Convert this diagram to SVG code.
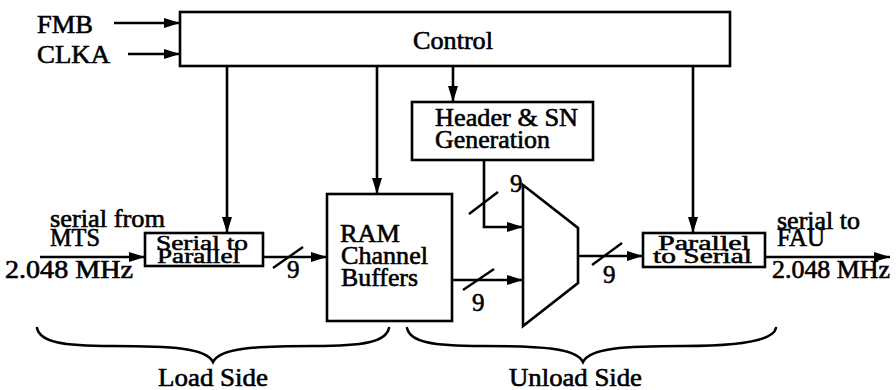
<svg xmlns="http://www.w3.org/2000/svg" width="896" height="390" viewBox="0 0 896 390" font-family="'Liberation Serif', 'Times New Roman', serif">
  <defs>
    <marker id="arrow" viewBox="0 0 16 10" refX="16" refY="5" markerWidth="16" markerHeight="10" markerUnits="userSpaceOnUse" orient="auto">
      <path d="M0,0 L16,5 L0,10 Z" fill="#000"/>
    </marker>
    <style>
      .box { fill: #fff; stroke: #000; stroke-width: 2.6; }
      .wire { fill: none; stroke: #000; stroke-width: 2.6; }
      .tick { fill: none; stroke: #000; stroke-width: 2.4; }
      .brace { fill: none; stroke: #000; stroke-width: 2.6; stroke-linecap: round; }
      .lbl { font-family: 'Liberation Serif', 'Times New Roman', serif; font-size: 25px; fill: #000; stroke: #000; stroke-width: 0.6; }
      .small { font-size: 20px; stroke-width: 0.5; }
    </style>
  </defs>

  <rect width="896" height="390" fill="#fff"/>

  <!-- Connectors -->
  <g id="connectors">
    <!-- external inputs to control -->
    <line class="wire" x1="114" y1="23" x2="180" y2="23" marker-end="url(#arrow)"/>
    <line class="wire" x1="128" y1="54" x2="180" y2="54" marker-end="url(#arrow)"/>
    <!-- control outputs -->
    <line class="wire" x1="227" y1="66" x2="227" y2="233" marker-end="url(#arrow)"/>
    <line class="wire" x1="377" y1="66" x2="377" y2="194" marker-end="url(#arrow)"/>
    <line class="wire" x1="453" y1="66" x2="453" y2="102" marker-end="url(#arrow)"/>
    <line class="wire" x1="693" y1="66" x2="693" y2="233" marker-end="url(#arrow)"/>
    <!-- serial input -->
    <line class="wire" x1="40" y1="257" x2="145" y2="257" marker-end="url(#arrow)"/>
    <!-- serial to parallel -> RAM (9 bits) -->
    <line class="wire" x1="263" y1="257" x2="327" y2="257" marker-end="url(#arrow)"/>
    <line class="tick" x1="273" y1="268" x2="303" y2="247"/>
    <!-- header -> mux (9 bits) -->
    <polyline class="wire" points="484,160 484,227 523,227" marker-end="url(#arrow)"/>
    <line class="tick" x1="469" y1="214" x2="498" y2="192"/>
    <!-- RAM -> mux (9 bits) -->
    <line class="wire" x1="452" y1="280" x2="523" y2="280" marker-end="url(#arrow)"/>
    <line class="tick" x1="463" y1="290" x2="494" y2="269"/>
    <!-- mux -> parallel to serial (9 bits) -->
    <line class="wire" x1="578" y1="256" x2="643" y2="256" marker-end="url(#arrow)"/>
    <line class="tick" x1="592" y1="265" x2="622" y2="243"/>
    <!-- serial output -->
    <line class="wire" x1="765" y1="257" x2="890" y2="257" marker-end="url(#arrow)"/>
  </g>

  <!-- Inputs -->
  <text class="lbl" x="37" y="33" textLength="56" lengthAdjust="spacingAndGlyphs">FMB</text>
  <text class="lbl" x="37" y="63" textLength="73" lengthAdjust="spacingAndGlyphs">CLKA</text>

  <g id="control">
    <rect class="box" x="180" y="12" width="550" height="54"/>
    <text class="lbl" x="413" y="49" textLength="80" lengthAdjust="spacingAndGlyphs">Control</text>
  </g>

  <g id="header">
    <rect class="box" x="412" y="102" width="181" height="58"/>
    <text class="lbl" x="435" y="126" textLength="143" lengthAdjust="spacingAndGlyphs">Header &amp; SN</text>
    <text class="lbl" x="435" y="148" textLength="115" lengthAdjust="spacingAndGlyphs">Generation</text>
  </g>

  <g id="serial-to-parallel">
    <rect class="box" x="145" y="233" width="118" height="33"/>
    <text class="lbl small" x="156" y="250" textLength="92" lengthAdjust="spacingAndGlyphs">Serial to</text>
    <text class="lbl small" x="157" y="263" textLength="83" lengthAdjust="spacingAndGlyphs">Parallel</text>
  </g>

  <g id="ram">
    <rect class="box" x="327" y="194" width="125" height="127"/>
    <text class="lbl" x="340" y="242" textLength="60" lengthAdjust="spacingAndGlyphs">RAM</text>
    <text class="lbl" x="341" y="264" textLength="87" lengthAdjust="spacingAndGlyphs">Channel</text>
    <text class="lbl" x="341" y="286" textLength="77" lengthAdjust="spacingAndGlyphs">Buffers</text>
  </g>

  <g id="mux">
    <polygon class="box" points="523,185 578,228 578,283 523,326"/>
  </g>

  <g id="parallel-to-serial">
    <rect class="box" x="643" y="233" width="122" height="34"/>
    <text class="lbl small" x="658" y="250" textLength="92" lengthAdjust="spacingAndGlyphs">Parallel</text>
    <text class="lbl small" x="653" y="263" textLength="99" lengthAdjust="spacingAndGlyphs">to Serial</text>
  </g>

  <!-- Bus widths -->
  <text class="lbl" x="287" y="278">9</text>
  <text class="lbl" x="510" y="192">9</text>
  <text class="lbl" x="472" y="311">9</text>
  <text class="lbl" x="603" y="283">9</text>

  <!-- Line labels -->
  <text class="lbl" x="50" y="227" textLength="115" lengthAdjust="spacingAndGlyphs">serial from</text>
  <text class="lbl" x="50" y="246" textLength="50" lengthAdjust="spacingAndGlyphs">MTS</text>
  <text class="lbl" x="5" y="278" textLength="128" lengthAdjust="spacingAndGlyphs">2.048 MHz</text>
  <text class="lbl" x="777" y="229" textLength="83" lengthAdjust="spacingAndGlyphs">serial to</text>
  <text class="lbl" x="777" y="246" textLength="48" lengthAdjust="spacingAndGlyphs">FAU</text>
  <text class="lbl" x="772" y="278" textLength="118" lengthAdjust="spacingAndGlyphs">2.048 MHz</text>

  <!-- Side braces -->
  <g id="load-side">
    <path class="brace" d="M37,328 C40,342 62,346 112,346 C172,346 206,348 213,362 C220,348 254,346 314,346 C364,346 386,342 389,328"/>
    <text class="lbl" x="158" y="386" textLength="110" lengthAdjust="spacingAndGlyphs">Load Side</text>
  </g>
  <g id="unload-side">
    <path class="brace" d="M407,328 C410,342 432,346 482,346 C542,346 576,348 583,362 C590,348 624,346 684,346 C734,346 773,342 776,328"/>
    <text class="lbl" x="509" y="386" textLength="133" lengthAdjust="spacingAndGlyphs">Unload Side</text>
  </g>
</svg>
